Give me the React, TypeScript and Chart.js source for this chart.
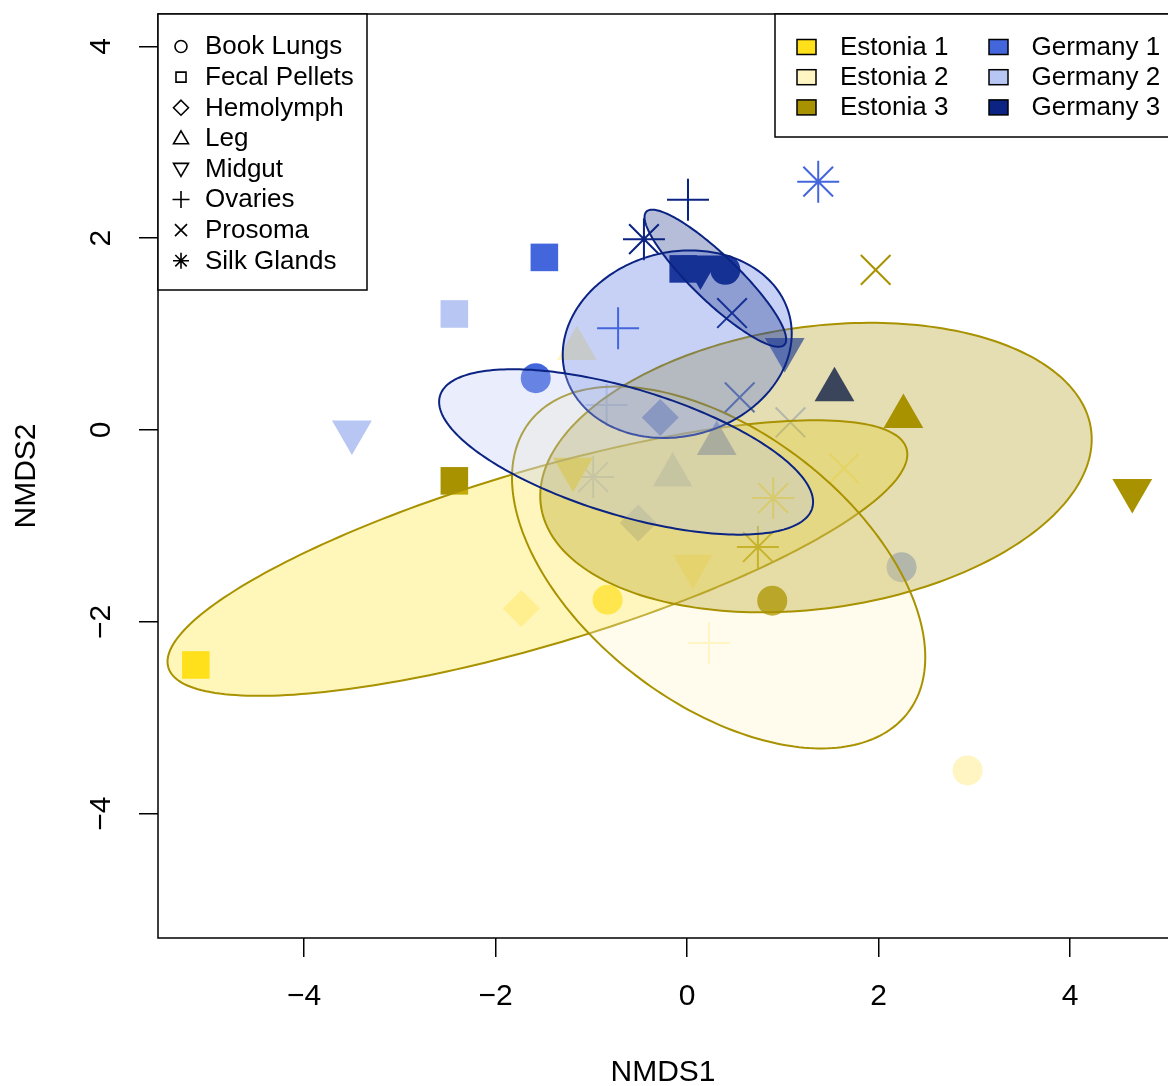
import React, { useEffect, useRef } from "react";
import { Chart, registerables } from "chart.js";

Chart.register(...registerables);

const FONT = "'Liberation Sans', Arial, Helvetica, sans-serif";

// ---- categories ----
const tissues = ["Book Lungs", "Fecal Pellets", "Hemolymph", "Leg", "Midgut", "Ovaries", "Prosoma", "Silk Glands"];
const tissueStyles = ["circle", "rect", "rectRot", "triangle", "triangle", "cross", "crossRot", "star"];
const tissueRotations = [0, 0, 0, 0, 180, 0, 0, 0];
const tissueRadii = [15, 19.5, 18.5, 23, 23, 21, 21, 21];
const tissueFilled = [true, true, true, true, true, false, false, false];

const groups = ["Estonia 1", "Estonia 2", "Estonia 3", "Germany 1", "Germany 2", "Germany 3"];
const groupColors = ["#FFE01A", "#FFF5C2", "#A89200", "#4466DD", "#B8C6F4", "#0B2382"];
const ellipseBorderColors = ["#A89200", "#A89200", "#A89200", "#0B2382", "#0B2382", "#0B2382"];

// ---- NMDS coordinates, one entry per tissue (null = no sample) ----
const estonia1X = [-0.83, -5.13, null, null, -1.19, null, null, 0.9];
const estonia1Y = [-1.77, -2.45, null, null, -0.41, null, null, -0.71];
const estonia2X = [2.93, null, -1.73, -1.15, 0.06, 0.23, 1.64, null];
const estonia2Y = [-3.55, null, -1.86, 0.85, -1.42, -2.22, -0.4, null];
const estonia3X = [0.89, -2.43, null, 2.26, 4.65, null, 1.97, 0.74];
const estonia3Y = [-1.78, -0.53, null, 0.14, -0.63, null, 1.67, -1.22];
const germany1X = [-1.58, -1.49, -0.28, 0.31, 1.02, -0.72, 0.55, 1.37];
const germany1Y = [0.54, 1.8, 0.13, -0.14, 0.84, 1.06, 0.34, 2.59];
const germany2X = [2.24, -2.43, -0.51, -0.15, -3.5, -0.84, 1.08, -0.98];
const germany2Y = [-1.43, 1.21, -0.97, -0.47, -0.02, 0.26, 0.08, -0.49];
const germany3X = [0.4, -0.04, null, 1.54, 0.14, 0.01, 0.47, -0.45];
const germany3Y = [1.67, 1.68, null, 0.42, 1.7, 2.4, 1.22, 1.99];

const groupXs = [estonia1X, estonia2X, estonia3X, germany1X, germany2X, germany3X];
const groupYs = [estonia1Y, estonia2Y, estonia3Y, germany1Y, germany2Y, germany3Y];

// ---- group ellipses (centred on group mean) ----
const ellipseSemiMajor = [4.02, 2.49, 2.9, 1.21, 2.03, 1.0];
const ellipseSemiMinor = [0.91, 1.42, 1.47, 0.96, 0.66, 0.24];
const ellipseAngleDeg = [16.5, -37.4, 7.9, 14.6, -16.8, -43.9];
const ellipseAlpha = 0.3;

// ---- axes ----
const xTickValues = [-4, -2, 0, 2, 4];
const yTickValues = [-4, -2, 0, 2, 4];
const xRange = [-5.525, 5.023];
const yRange = [-5.297, 4.338];

const fmt = (v: number) => (v < 0 ? "\u2212" + Math.abs(v) : String(v));

function hexToRgba(hex: string, a: number) {
  const n = parseInt(hex.slice(1), 16);
  return `rgba(${(n >> 16) & 255},${(n >> 8) & 255},${n & 255},${a})`;
}

function mean(arr: (number | null)[]) {
  const v = arr.filter((d) => d != null) as number[];
  return v.reduce((s, d) => s + d, 0) / v.length;
}

const ellipsePlugin = {
  id: "groupEllipses",
  afterDatasetsDraw(chart: any) {
    const { ctx, chartArea: ca } = chart;
    const xs = chart.scales.x;
    const ys = chart.scales.y;
    ctx.save();
    ctx.beginPath();
    ctx.rect(ca.left, ca.top, ca.right - ca.left, ca.bottom - ca.top);
    ctx.clip();
    groups.forEach((_, i) => {
      const cx = mean(groupXs[i]);
      const cy = mean(groupYs[i]);
      const a = ellipseSemiMajor[i];
      const b = ellipseSemiMinor[i];
      const th = (ellipseAngleDeg[i] * Math.PI) / 180;
      ctx.beginPath();
      const n = 240;
      for (let k = 0; k <= n; k++) {
        const t = (2 * Math.PI * k) / n;
        const dx = a * Math.cos(t);
        const dy = b * Math.sin(t);
        const px = xs.getPixelForValue(cx + dx * Math.cos(th) - dy * Math.sin(th));
        const py = ys.getPixelForValue(cy + dx * Math.sin(th) + dy * Math.cos(th));
        if (k === 0) ctx.moveTo(px, py);
        else ctx.lineTo(px, py);
      }
      ctx.closePath();
      ctx.fillStyle = hexToRgba(groupColors[i], ellipseAlpha);
      ctx.fill();
      ctx.strokeStyle = ellipseBorderColors[i];
      ctx.lineWidth = 2;
      ctx.stroke();
    });
    ctx.restore();
  },
};

function drawLegendSymbol(ctx: CanvasRenderingContext2D, style: string, rot: number, x: number, y: number) {
  ctx.save();
  ctx.strokeStyle = "#000";
  ctx.lineWidth = 1.6;
  ctx.beginPath();
  if (style === "circle") {
    ctx.arc(x, y, 6, 0, Math.PI * 2);
  } else if (style === "rect") {
    ctx.rect(x - 5, y - 5, 10, 10);
  } else if (style === "rectRot") {
    ctx.moveTo(x, y - 7.5);
    ctx.lineTo(x + 7.5, y);
    ctx.lineTo(x, y + 7.5);
    ctx.lineTo(x - 7.5, y);
    ctx.closePath();
  } else if (style === "triangle") {
    const s = rot === 180 ? -1 : 1;
    ctx.moveTo(x, y - s * 7.5);
    ctx.lineTo(x + 7.5, y + s * 5.5);
    ctx.lineTo(x - 7.5, y + s * 5.5);
    ctx.closePath();
  } else if (style === "cross") {
    ctx.moveTo(x - 8.5, y);
    ctx.lineTo(x + 8.5, y);
    ctx.moveTo(x, y - 8.5);
    ctx.lineTo(x, y + 8.5);
  } else if (style === "crossRot") {
    ctx.moveTo(x - 6, y - 6);
    ctx.lineTo(x + 6, y + 6);
    ctx.moveTo(x + 6, y - 6);
    ctx.lineTo(x - 6, y + 6);
  } else if (style === "star") {
    ctx.moveTo(x - 8, y);
    ctx.lineTo(x + 8, y);
    ctx.moveTo(x, y - 8);
    ctx.lineTo(x, y + 8);
    ctx.moveTo(x - 5.7, y - 5.7);
    ctx.lineTo(x + 5.7, y + 5.7);
    ctx.moveTo(x + 5.7, y - 5.7);
    ctx.lineTo(x - 5.7, y + 5.7);
  }
  ctx.stroke();
  ctx.restore();
}

const legendPlugin = {
  id: "rLegends",
  afterDraw(chart: any) {
    const { ctx, chartArea: ca } = chart;
    ctx.save();
    ctx.strokeStyle = "#000";
    ctx.lineWidth = 1.5;
    // plot frame (right side lies at the canvas edge)
    ctx.beginPath();
    ctx.moveTo(ca.right + 2, ca.top);
    ctx.lineTo(ca.left, ca.top);
    ctx.lineTo(ca.left, ca.bottom);
    ctx.lineTo(ca.right + 2, ca.bottom);
    ctx.stroke();

    // tissue (shape) legend, top-left
    const lx = ca.left;
    const ly = ca.top;
    ctx.fillStyle = "#fff";
    ctx.fillRect(lx, ly, 209, 276);
    ctx.strokeRect(lx, ly, 209, 276);
    ctx.font = `26px ${FONT}`;
    ctx.textAlign = "left";
    ctx.textBaseline = "alphabetic";
    tissues.forEach((t, k) => {
      const cy = ly + 32.5 + k * 30.6;
      drawLegendSymbol(ctx, tissueStyles[k], tissueRotations[k], lx + 23, cy);
      ctx.fillStyle = "#000";
      ctx.fillText(t, lx + 47, cy + 7.8);
    });

    // population legend, top-right
    const rx = ca.right - 393;
    const ry = ca.top;
    ctx.fillStyle = "#fff";
    ctx.fillRect(rx, ry, 420, 123);
    ctx.strokeRect(rx, ry, 420, 123);
    groups.forEach((g, i) => {
      const col = Math.floor(i / 3);
      const row = i % 3;
      const cy = ry + 33 + row * 30.2;
      const sx = rx + 31.5 + col * 192;
      ctx.fillStyle = groupColors[i];
      ctx.fillRect(sx - 9.5, cy - 7.5, 19, 15);
      ctx.lineWidth = 1.5;
      ctx.strokeStyle = "#000";
      ctx.strokeRect(sx - 9.5, cy - 7.5, 19, 15);
      ctx.fillStyle = "#000";
      ctx.fillText(g, rx + 65 + col * 191.5, cy + 7.8);
    });
    ctx.restore();
  },
};

function zeroPadding(s: any) {
  s.paddingTop = 0;
  s.paddingBottom = 0;
  s.paddingLeft = 0;
  s.paddingRight = 0;
}

export default function App() {
  const canvasRef = useRef<HTMLCanvasElement | null>(null);

  useEffect(() => {
    document.body.style.margin = "0";
    const canvas = canvasRef.current;
    if (!canvas) return;

    const datasets = groups.map((g, i) => {
      const idx = tissues.map((_, k) => k).filter((k) => groupXs[i][k] != null);
      return {
        label: g,
        data: idx.map((k) => ({ x: groupXs[i][k] as number, y: groupYs[i][k] as number })),
        pointStyle: idx.map((k) => tissueStyles[k]),
        pointRadius: idx.map((k) => tissueRadii[k]),
        pointRotation: idx.map((k) => tissueRotations[k]),
        pointBorderWidth: idx.map((k) => (tissueFilled[k] ? 0 : 2)),
        pointBackgroundColor: groupColors[i],
        pointBorderColor: groupColors[i],
        backgroundColor: groupColors[i],
        borderColor: groupColors[i],
        showLine: false,
      };
    });

    const chart = new Chart(canvas, {
      type: "scatter",
      data: { datasets } as any,
      plugins: [ellipsePlugin, legendPlugin],
      options: {
        responsive: false,
        animation: false,
        devicePixelRatio: 1,
        layout: { autoPadding: false, padding: { top: 14, right: 0, left: 0, bottom: 0 } },
        plugins: { legend: { display: false }, tooltip: { enabled: false } },
        scales: {
          x: {
            type: "linear",
            min: xRange[0],
            max: xRange[1],
            afterFit: (s: any) => {
              s.height = 148;
              zeroPadding(s);
            },
            afterBuildTicks: (s: any) => {
              s.ticks = xTickValues.map((v) => ({ value: v }));
            },
            grid: { drawOnChartArea: false, drawTicks: true, tickLength: 19, color: "#000", lineWidth: 1.5 },
            border: { display: false },
            ticks: {
              autoSkip: false,
              maxRotation: 0,
              padding: 22,
              color: "#000",
              font: { family: FONT, size: 30 },
              callback: (v: any) => fmt(Number(v)),
            },
            title: {
              display: true,
              text: "NMDS1",
              color: "#000",
              font: { family: FONT, size: 30, lineHeight: 0.9 },
              padding: { top: 0, bottom: 0 },
            },
          },
          y: {
            type: "linear",
            min: yRange[0],
            max: yRange[1],
            afterFit: (s: any) => {
              s.width = 158;
              zeroPadding(s);
            },
            afterBuildTicks: (s: any) => {
              s.ticks = yTickValues.map((v) => ({ value: v }));
            },
            grid: { drawOnChartArea: false, drawTicks: true, tickLength: 19, color: "#000", lineWidth: 1.5 },
            border: { display: false },
            ticks: {
              autoSkip: false,
              minRotation: 90,
              maxRotation: 90,
              crossAlign: "center",
              padding: 20,
              color: "#000",
              font: { family: FONT, size: 30 },
              callback: (v: any) => fmt(Number(v)),
            },
            title: {
              display: true,
              text: "NMDS2",
              color: "#000",
              font: { family: FONT, size: 30, lineHeight: 0.9 },
              padding: { top: 13, bottom: 0 },
            },
          },
        },
      } as any,
    });

    return () => {
      chart.destroy();
    };
  }, []);

  return (
    <div style={{ width: 1168, height: 1086, overflow: "hidden" }}>
      <canvas ref={canvasRef} width={1168} height={1086} style={{ display: "block", width: 1168, height: 1086 }} />
    </div>
  );
}
